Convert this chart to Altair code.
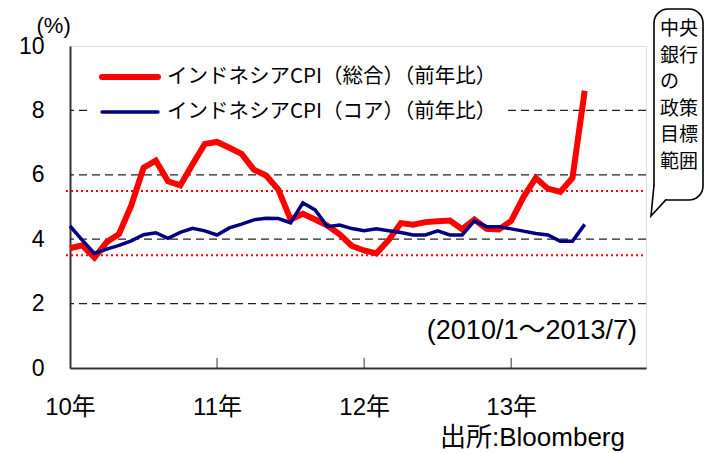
import altair as alt
import pandas as pd
import json

# ---- data ----
series_names = ["インドネシアCPI（総合）（前年比）", "インドネシアCPI（コア）（前年比）"]
series_colors = ["#ff0000", "#000080"]
series_widths = [6, 3.5]
headline = [3.72, 3.81, 3.43, 3.91, 4.16, 5.05, 6.22, 6.44, 5.80, 5.67, 6.33, 6.96,
            7.02, 6.84, 6.65, 6.16, 5.98, 5.54, 4.61, 4.79, 4.61, 4.42, 4.15, 3.79,
            3.65, 3.56, 3.97, 4.50, 4.45, 4.53, 4.56, 4.58, 4.31, 4.61, 4.32, 4.30,
            4.57, 5.31, 5.90, 5.57, 5.47, 5.90, 8.61]
core = [4.41, 3.97, 3.56, 3.69, 3.81, 3.95, 4.14, 4.20, 4.03, 4.21, 4.34, 4.26,
        4.13, 4.35, 4.47, 4.60, 4.65, 4.64, 4.51, 5.13, 4.91, 4.39, 4.44, 4.33,
        4.26, 4.32, 4.26, 4.21, 4.13, 4.13, 4.26, 4.13, 4.13, 4.57, 4.39, 4.39,
        4.32, 4.25, 4.18, 4.13, 3.94, 3.94, 4.46]
year_labels = ["10年", "11年", "12年", "13年"]
year_ticks = [0, 12, 24, 36]
inner_ticks = [12, 24, 36]
y_ticks = [0, 2, 4, 6, 8, 10]
grid_vals = [2, 4, 6, 8]
target_band = [3.5, 5.5]
bubble_lines = ["中央", "銀行", "の", "政策", "目標", "範囲"]
period_text = "(2010/1～2013/7)"
source_text = "出所:Bloomberg"
y_title = "(%)"

FONT = "Liberation Sans, Noto Sans CJK JP, sans-serif"
JFONT = "Noto Sans CJK JP, sans-serif"

n = len(headline)
df = pd.DataFrame({
    "m": list(range(n)) * 2,
    "v": headline + core,
    "s": [series_names[0]] * n + [series_names[1]] * n,
    "o": [0] * n + [1] * n,
})

xscale = alt.Scale(domain=[0, 47], nice=False, zero=False)
yscale = alt.Scale(domain=[0, 10], nice=False)

label_expr = "(" + json.dumps(year_labels, ensure_ascii=False) + ")[round(datum.value/12)]"

base_x = alt.X("m:Q", scale=xscale,
               axis=alt.Axis(values=year_ticks, labelExpr=label_expr, grid=False, ticks=False,
                             labelPadding=27, labelFontSize=24, labelFont=FONT, labelColor="#000",
                             labelFlush=False, labelAlign="center", labelBound=False,
                             labelOverlap=False,
                             domainColor="#333", domainWidth=2, title=None, labelBaseline="top"))
base_y = alt.Y("v:Q", scale=yscale,
               axis=alt.Axis(values=y_ticks, grid=False, ticks=False, labelPadding=26,
                             labelFontSize=23, labelFont=FONT, labelColor="#000",
                             labelFlush=False, labelOverlap=False,
                             domainColor="#333", domainWidth=2, title=y_title, titleAngle=0,
                             titleAlign="left", titleX=-34, titleY=-9, titleBaseline="bottom",
                             titleFontSize=22, titleFont=FONT, titleFontWeight="normal",
                             titleColor="#000"))

grid = alt.Chart(pd.DataFrame({"g": grid_vals})).mark_rule(
    color="#222", strokeWidth=1.2, strokeDash=[8, 5]).encode(y=alt.Y("g:Q", scale=yscale))

band = alt.Chart(pd.DataFrame({"b": target_band})).mark_rule(
    color="#ff0000", strokeWidth=2, strokeDash=[2, 3]).encode(
    y=alt.Y("b:Q", scale=yscale), x=alt.value(-4), x2=alt.value(573))

ticks = alt.Chart(pd.DataFrame({"t": inner_ticks})).mark_rule(color="#333", strokeWidth=1).encode(
    x=alt.X("t:Q", scale=xscale), y=alt.value(322), y2=alt.value(312))

lines = alt.Chart(df).mark_line(strokeCap="butt", strokeJoin="miter").encode(
    x=base_x, y=base_y,
    color=alt.Color("s:N", scale=alt.Scale(domain=series_names, range=series_colors), legend=None),
    strokeWidth=alt.StrokeWidth("s:N", scale=alt.Scale(domain=series_names, range=series_widths),
                                legend=None),
    order=alt.Order("o:Q"),
)

# legend (drawn by hand inside the plot)
legend_box = alt.Chart(pd.DataFrame({"a": [0]})).mark_rect(fill="white", stroke=None).encode(
    x=alt.value(17), x2=alt.value(436), y=alt.value(12), y2=alt.value(84))
legend_layers = [legend_box]
for i, (name, col, w) in enumerate(zip(series_names, series_colors, series_widths)):
    ly = 31 + 35 * i
    legend_layers.append(
        alt.Chart(pd.DataFrame({"s": [name]})).mark_rule(color=col, strokeWidth=w, strokeCap="round").encode(
            x=alt.value(32), x2=alt.value(88), y=alt.value(ly)))
    legend_layers.append(
        alt.Chart(pd.DataFrame({"s": [name]})).mark_text(
            align="left", baseline="middle", fontSize=20.5, font=JFONT, color="#000").encode(
            text="s:N", x=alt.value(97), y=alt.value(ly)))

period = alt.Chart(pd.DataFrame({"t": [period_text]})).mark_text(
    align="right", baseline="alphabetic", fontSize=27, font=FONT, color="#000").encode(
    text="t:N", x=alt.value(567), y=alt.value(293))

source = alt.Chart(pd.DataFrame({"t": [source_text]})).mark_text(
    align="right", baseline="alphabetic", fontSize=26, font=FONT, color="#000").encode(
    text="t:N", x=alt.value(555), y=alt.value(400))

bubble = alt.Chart(pd.DataFrame({"a": [0]})).mark_rect(
    fill="white", stroke="#000", strokeWidth=1.6, cornerRadius=14).encode(
    x=alt.value(584), x2=alt.value(633), y=alt.value(-37), y2=alt.value(154))

tail = alt.Chart(pd.DataFrame({"a": [0]})).mark_point(
    shape="M -0.2 -0.75 L -0.35 0.8 L 0.4 -0.02", filled=False, fill="white", fillOpacity=1,
    stroke="#000", strokeWidth=1.6, size=1600, opacity=1).encode(
    x=alt.value(588), y=alt.value(154))

bubble_text = alt.Chart(pd.DataFrame({"t": ["\n".join(bubble_lines)]})).mark_text(
    align="left", baseline="top", fontSize=19, font=JFONT, color="#000", lineBreak="\n",
    lineHeight=26.5).encode(text="t:N", x=alt.value(590), y=alt.value(-26))

chart = alt.layer(grid, band, ticks, *legend_layers, lines, period, source, bubble, tail,
                  bubble_text).properties(
    width=576, height=322,
    autosize=alt.AutoSizeParams(type="none"),
    padding={"left": 62, "top": 38, "right": 58, "bottom": 84},
).configure_view(stroke="#999", strokeWidth=1.5).configure(background="white")

chart.save("out.html", embed_options={"renderer": "svg", "actions": False})
